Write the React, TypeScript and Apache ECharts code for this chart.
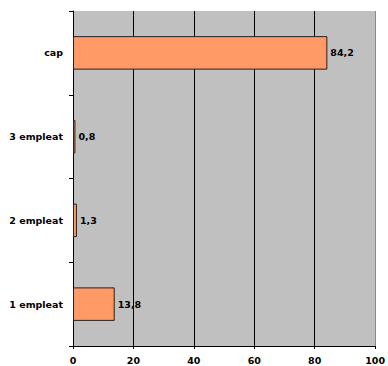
import React, { useEffect, useRef } from "react";
import * as echarts from "echarts";

const categories = ["1 empleat", "2 empleat", "3 empleat", "cap"];
const values = [13.8, 1.3, 0.8, 84.2];
const xTicks = { min: 0, max: 100, interval: 20 };

const FONT = "DejaVu Sans";

export default function App() {
  const ref = useRef<HTMLDivElement>(null);

  useEffect(() => {
    if (!ref.current) return;
    const chart = echarts.init(ref.current, null, { renderer: "svg" });
    chart.setOption({
      animation: false,
      grid: {
        left: 73,
        right: 9,
        top: 11,
        bottom: 20,
        show: true,
        backgroundColor: "#C0C0C0",
        borderWidth: 0,
      },
      xAxis: {
        type: "value",
        min: xTicks.min,
        max: xTicks.max,
        interval: xTicks.interval,
        axisLine: { show: true, lineStyle: { color: "#000", width: 1 } },
        axisTick: { show: true, length: 3, lineStyle: { color: "#000" } },
        axisLabel: {
          color: "#000",
          fontFamily: FONT,
          fontWeight: "bold",
          fontSize: 9.5,
          margin: 9,
        },
        splitLine: {
          show: true,
          lineStyle: {
            color: ["#000", "#000", "#000", "#000", "#000", "#8a8a8a"],
            width: 1,
          },
        },
      },
      yAxis: {
        type: "category",
        data: categories,
        axisLine: { show: true, lineStyle: { color: "#000", width: 1 } },
        axisTick: { show: true, length: 4, lineStyle: { color: "#000" } },
        axisLabel: {
          color: "#000",
          fontFamily: FONT,
          fontWeight: "bold",
          fontSize: 9.5,
          margin: 10,
        },
      },
      series: [
        {
          type: "bar",
          data: values,
          barCategoryGap: "60%",
          itemStyle: {
            color: "#FF9966",
            borderColor: "#222",
            borderWidth: 1,
          },
          label: {
            show: true,
            position: "right",
            distance: 3,
            color: "#000",
            fontFamily: FONT,
            fontWeight: "bold",
            fontSize: 9.5,
            formatter: (p: any) => String(p.value).replace(".", ","),
          },
        },
      ],
    });
    return () => chart.dispose();
  }, []);

  return <div ref={ref} style={{ width: 388, height: 366, position: "absolute", left: 0, top: 0 }} />;
}
